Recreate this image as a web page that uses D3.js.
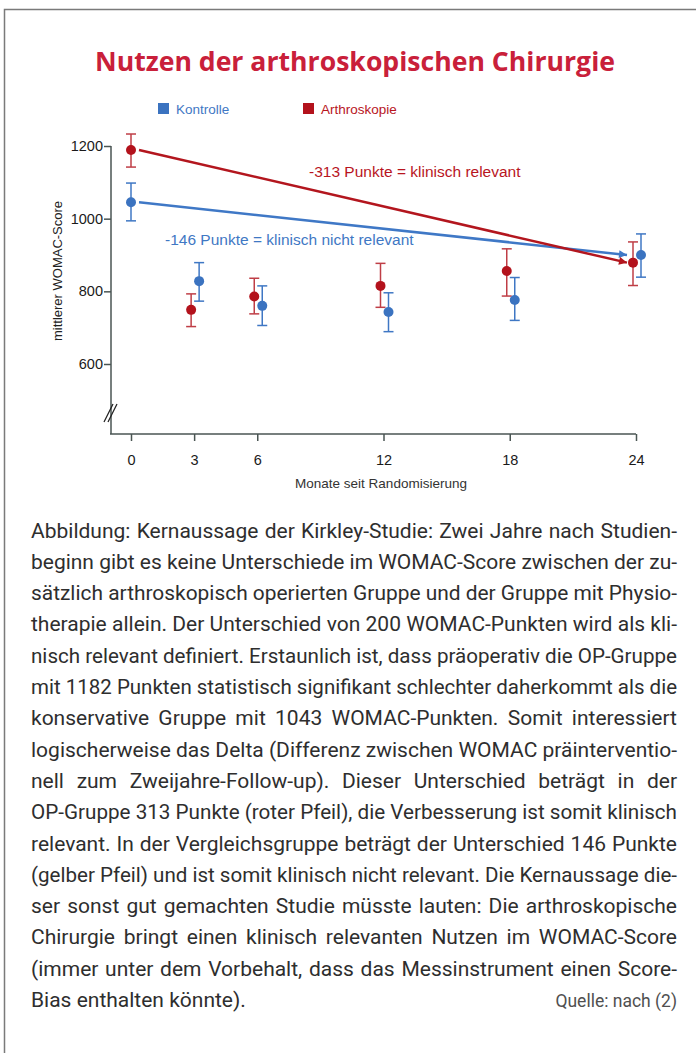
<!DOCTYPE html>
<meta charset="utf-8">
<html>
<head>
<title>Nutzen der arthroskopischen Chirurgie</title>
<script src="https://d3js.org/d3.v7.min.js"></script>
<style>
    body {
        margin: 0;
        background: #fff;
    }
    svg {
        display: block;
    }
    .axis text {
        font-family: "Liberation Sans", Arial, sans-serif;
        font-size: 14.5px;
        fill: #1a1a1a;
    }
    .axis line {
        stroke: #4a5553;
        stroke-width: 1.5;
    }
</style>
</head>
<body>
<svg id="chart"></svg>
<script>

// months after randomisation
var months = [0, 3, 6, 12, 18, 24]

// Arthroskopie group: mean and error bar ends
var arthroMean = [1189, 749, 786, 815, 856, 879]
var arthroLow  = [1142, 703, 738, 756, 787, 816]
var arthroHigh = [1233, 793, 836, 877, 917, 936]

// Kontrolle group
var kontrolleMean = [1045, 828, 760, 743, 776, 900]
var kontrolleLow  = [994, 773, 706, 689, 720, 839]
var kontrolleHigh = [1098, 879, 815, 796, 838, 958]

var yTicks = [600, 800, 1000, 1200]
var legendLabels = ["Kontrolle", "Arthroskopie"]
var arrowLabels = ["-146 Punkte = klinisch nicht relevant", "-313 Punkte = klinisch relevant"]

var caption = [
    "Abbildung: Kernaussage der Kirkley-Studie: Zwei Jahre nach Studien-",
    "beginn gibt es keine Unterschiede im WOMAC-Score zwischen der zu-",
    "sätzlich arthroskopisch operierten Gruppe und der Gruppe mit Physio-",
    "therapie allein. Der Unterschied von 200 WOMAC-Punkten wird als kli-",
    "nisch relevant definiert. Erstaunlich ist, dass präoperativ die OP-Gruppe",
    "mit 1182 Punkten statistisch signifikant schlechter daherkommt als die",
    "konservative Gruppe mit 1043 WOMAC-Punkten. Somit interessiert",
    "logischerweise das Delta (Differenz zwischen WOMAC präinterventio-",
    "nell zum Zweijahre-Follow-up). Dieser Unterschied beträgt in der",
    "OP-Gruppe 313 Punkte (roter Pfeil), die Verbesserung ist somit klinisch",
    "relevant. In der Vergleichsgruppe beträgt der Unterschied 146 Punkte",
    "(gelber Pfeil) und ist somit klinisch nicht relevant. Die Kernaussage die-",
    "ser sonst gut gemachten Studie müsste lauten: Die arthroskopische",
    "Chirurgie bringt einen klinisch relevanten Nutzen im WOMAC-Score",
    "(immer unter dem Vorbehalt, dass das Messinstrument einen Score-",
    "Bias enthalten könnte)."
]
var source = "Quelle: nach (2)"

var width = 696
var height = 1053
var svg = d3.select("#chart")
    .attr("width", width)
    .attr("height", height)

// frame
svg.append("path")
    .attr("d", "M4.5," + height + "V9.5H" + width)
    .attr("fill", "none")
    .attr("stroke", "#7a7a7a")
    .attr("stroke-width", 1.5)

// title
svg.append("text")
    .text("Nutzen der arthroskopischen Chirurgie")
    .attr("x", 355)
    .attr("y", 71)
    .attr("text-anchor", "middle")
    .attr("font-family", "'Open Sans', sans-serif")
    .attr("font-weight", 700)
    .attr("font-size", 27)
    .attr("fill", "#c9203a")
    .attr("textLength", 520)
    .attr("lengthAdjust", "spacingAndGlyphs")

var x = d3.scaleLinear().domain([0, 24]).range([131, 636])
var y = d3.scaleLinear().domain([600, 1200]).range([364, 146])
var axisX = 111
var axisY = 434

var series = [
    {name: legendLabels[0], mean: kontrolleMean, low: kontrolleLow, high: kontrolleHigh,
     dot: "#3b73c0", bar: "#3f77c4", line: "#3f78c6", text: "#3f78c4", dodge: 5},
    {name: legendLabels[1], mean: arthroMean, low: arthroLow, high: arthroHigh,
     dot: "#b3121c", bar: "#bf3e46", line: "#b3161e", text: "#b8151e", dodge: -3}
]

// legend
var legend = svg.append("g")
    .selectAll("g")
    .data(series)
    .enter()
    .append("g")
    .attr("transform", (d, i) => "translate(" + (158 + i * 145) + ",103)")
legend.append("rect")
    .attr("width", 11)
    .attr("height", 11)
    .attr("fill", d => d.dot)
legend.append("text")
    .text(d => d.name)
    .attr("x", 18)
    .attr("y", 10.5)
    .attr("font-family", "'Liberation Sans', Arial, sans-serif")
    .attr("font-size", 13.5)
    .attr("fill", d => d.text)

// y axis
var yAxis = svg.append("g")
    .attr("class", "axis")
    .attr("transform", "translate(" + axisX + ",0)")
    .call(d3.axisLeft(y).tickValues(yTicks).tickSize(7).tickSizeOuter(0).tickPadding(1).tickFormat(d3.format("d")))
yAxis.select(".domain").remove()
svg.append("line")
    .attr("x1", axisX).attr("x2", axisX)
    .attr("y1", y(1200)).attr("y2", axisY)
    .attr("stroke", "#4a5553")
    .attr("stroke-width", 1.5)

// axis break marks
svg.append("g")
    .selectAll("line")
    .data([0, 4])
    .enter()
    .append("line")
    .attr("x1", d => axisX - 7 + d).attr("y1", 422)
    .attr("x2", d => axisX + 2 + d).attr("y2", 404)
    .attr("stroke", "#222")
    .attr("stroke-width", 1.2)

// x axis
var xAxis = svg.append("g")
    .attr("class", "axis")
    .attr("transform", "translate(0," + axisY + ")")
    .call(d3.axisBottom(x).tickValues(months).tickSize(7).tickSizeOuter(0).tickPadding(14))
xAxis.select(".domain").remove()
svg.append("line")
    .attr("x1", axisX - 1).attr("x2", x(24))
    .attr("y1", axisY).attr("y2", axisY)
    .attr("stroke", "#4a5553")
    .attr("stroke-width", 1.5)

// axis titles
svg.append("text")
    .text("Monate seit Randomisierung")
    .attr("x", 381)
    .attr("y", 488)
    .attr("text-anchor", "middle")
    .attr("font-family", "'Liberation Sans', Arial, sans-serif")
    .attr("font-size", 13.5)
    .attr("fill", "#333")

svg.append("text")
    .text("mittlerer WOMAC-Score")
    .attr("transform", "translate(62,271) rotate(-90)")
    .attr("text-anchor", "middle")
    .attr("font-family", "'Liberation Sans', Arial, sans-serif")
    .attr("font-size", 13)
    .attr("fill", "#222")

// arrow markers
var defs = svg.append("defs")
series.forEach(function(s, i) {
    defs.append("marker")
        .attr("id", "arrow" + i)
        .attr("viewBox", "0 0 10 10")
        .attr("refX", 10)
        .attr("refY", 5)
        .attr("markerWidth", 4)
        .attr("markerHeight", 3.2)
        .attr("markerUnits", "strokeWidth")
        .attr("orient", "auto")
        .append("path")
        .attr("d", "M0,0L10,5L0,10z")
        .attr("fill", s.line)
})

// change arrows from month 0 to month 24
var last = months.length - 1
svg.append("g")
    .selectAll("line")
    .data(series)
    .enter()
    .append("line")
    .attr("x1", d => x(months[0]) + 8)
    .attr("y1", d => y(d.mean[0]))
    .attr("x2", d => x(months[last]) - 9)
    .attr("y2", d => y(d.mean[last]))
    .attr("stroke", d => d.line)
    .attr("stroke-width", 2.5)
    .attr("marker-end", (d, i) => "url(#arrow" + i + ")")

// arrow labels
svg.append("text")
    .text(arrowLabels[0])
    .attr("x", 165)
    .attr("y", 245)
    .attr("font-family", "'Liberation Sans', Arial, sans-serif")
    .attr("font-size", 15.5)
    .attr("fill", series[0].text)
svg.append("text")
    .text(arrowLabels[1])
    .attr("x", 309)
    .attr("y", 177)
    .attr("font-family", "'Liberation Sans', Arial, sans-serif")
    .attr("font-size", 15.5)
    .attr("fill", series[1].text)

// error bars and points
function px(s, i) {
    return x(months[i]) + (months[i] === 0 ? 0 : s.dodge)
}

series.forEach(function(s) {
    var g = svg.append("g")
    var idx = d3.range(months.length)
    g.selectAll(".stem")
        .data(idx)
        .enter()
        .append("line")
        .attr("x1", i => px(s, i)).attr("x2", i => px(s, i))
        .attr("y1", i => y(s.low[i])).attr("y2", i => y(s.high[i]))
        .attr("stroke", s.bar)
        .attr("stroke-width", 1.5)
    g.selectAll(".cap")
        .data(idx.flatMap(i => [[i, s.low[i]], [i, s.high[i]]]))
        .enter()
        .append("line")
        .attr("x1", d => px(s, d[0]) - 5).attr("x2", d => px(s, d[0]) + 5)
        .attr("y1", d => y(d[1])).attr("y2", d => y(d[1]))
        .attr("stroke", s.bar)
        .attr("stroke-width", 1.5)
})
series.forEach(function(s) {
    svg.append("g")
        .selectAll("circle")
        .data(d3.range(months.length))
        .enter()
        .append("circle")
        .attr("cx", i => px(s, i))
        .attr("cy", i => y(s.mean[i]))
        .attr("r", 5)
        .attr("fill", s.dot)
})

// caption, justified to the column
var colLeft = 31
var colWidth = 646
var lineH = 31.3
var cap = svg.append("g")
    .attr("font-family", "Roboto, sans-serif")
    .attr("font-size", 21)
    .attr("fill", "#2e2e2e")
caption.forEach(function(line, i) {
    var t = cap.append("text")
        .text(line)
        .attr("x", colLeft)
        .attr("y", 537.5 + i * lineH)
    if (i === caption.length - 1) return
    var w = t.node().getComputedTextLength()
    var spaces = line.split(" ").length - 1
    if (w < colWidth && spaces > 0) {
        t.attr("word-spacing", (colWidth - w) / spaces)
    } else {
        t.attr("textLength", colWidth).attr("lengthAdjust", "spacingAndGlyphs")
    }
})

svg.append("text")
    .text(source)
    .attr("x", colLeft + colWidth)
    .attr("y", 537.5 + (caption.length - 1) * lineH)
    .attr("text-anchor", "end")
    .attr("font-family", "Roboto, sans-serif")
    .attr("font-size", 17.5)
    .attr("fill", "#505050")
</script>
</body>
</html>
